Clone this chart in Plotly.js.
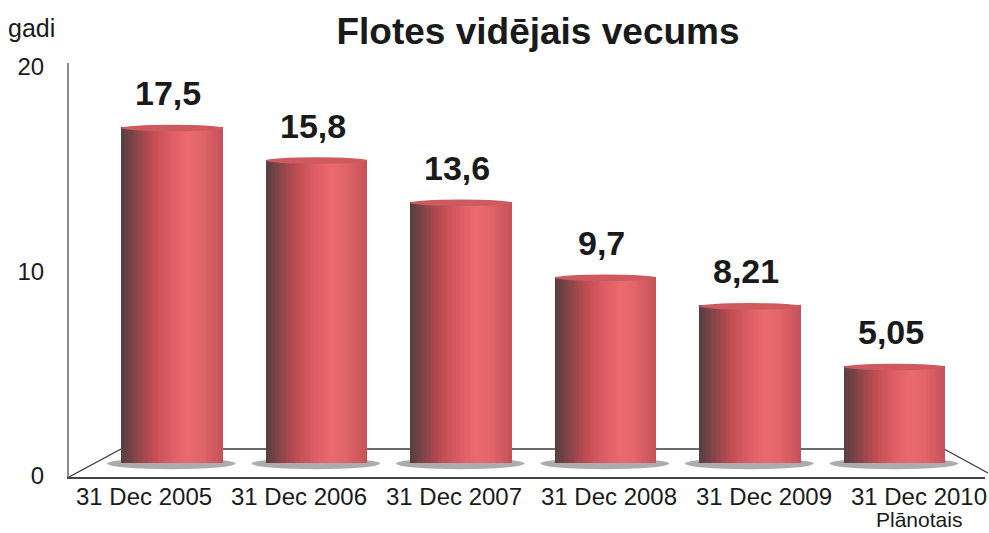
<!DOCTYPE html>
<html>
<head>
<meta charset="utf-8">
<script src="https://cdn.plot.ly/plotly-3.0.1.min.js"></script>
<style>html,body{margin:0;padding:0;background:#fff;}#chart{width:989px;height:533px;}</style>
</head>
<body>
<div id="chart"></div>
<script>
// ---- data ----
var categories = ["31 Dec 2005", "31 Dec 2006", "31 Dec 2007", "31 Dec 2008", "31 Dec 2009", "31 Dec 2010"];
var categoryNote = "Plānotais";
var values = [17.5, 15.8, 13.6, 9.7, 8.21, 5.05];
var valueLabels = ["17,5", "15,8", "13,6", "9,7", "8,21", "5,05"];
var yTickVals = [0, 10, 20];
var chartTitle = "Flotes vidējais vecums";
var yUnit = "gadi";

// ---- styling: cylinder shading stops ----
var shadeStops = [[0, [84,62,64]], [0.12, [128,68,72]], [0.3, [190,76,82]], [0.5, [222,94,100]], [0.65, [234,106,110]], [0.8, [226,100,105]], [1, [196,82,88]]];
function shadeAt(t){
  for (var s = 1; s < shadeStops.length; s++) {
    if (t <= shadeStops[s][0]) {
      var a = shadeStops[s-1], b = shadeStops[s];
      var f = (t - a[0]) / (b[0] - a[0]);
      var c = a[1].map(function(v, j){ return Math.round(v + (b[1][j] - v) * f); });
      return 'rgb(' + c.join(',') + ')';
    }
  }
  return 'rgb(' + shadeStops[shadeStops.length-1][1].join(',') + ')';
}
var W = 0.70;
var N = 40;
var idx = values.map(function(_, i){ return i; });

var traces = [];
for (var k = 0; k < N; k++) {
  traces.push({
    type: 'bar', x: idx, y: values,
    xaxis: 'x', yaxis: 'y2',
    offset: -W/2 + k*W/N, width: (W/N)*(k < N-1 ? 1.6 : 1),
    marker: {color: shadeAt((k + 0.5) / N), line: {width: 0}},
    hoverinfo: 'skip', showlegend: false
  });
}
// invisible helper for label axes
traces.push({type:'scatter', mode:'markers', x: idx, y: values, xaxis:'x2', yaxis:'y',
  marker:{opacity:0}, hoverinfo:'skip', showlegend:false});

var shapes = [];
function px2x(p){ return (p-69)/916; }
function py2y(p){ return (477-p)/414; }
var floorLine = {color:'#3a3a3a', width:1.4};
shapes.push({type:'line', xref:'paper', yref:'paper', x0:px2x(69), y0:py2y(477), x1:px2x(121), y1:py2y(449), line:floorLine, layer:'below'});
shapes.push({type:'line', xref:'paper', yref:'paper', x0:px2x(121), y0:py2y(449), x1:px2x(944), y1:py2y(449), line:floorLine, layer:'below'});
shapes.push({type:'line', xref:'paper', yref:'paper', x0:px2x(944), y0:py2y(449), x1:px2x(988), y1:py2y(473), line:floorLine, layer:'below'});
values.forEach(function(v, i){
  shapes.push({type:'circle', xref:'x', yref:'y2', x0:i-0.45, x1:i+0.44, y0:-0.32, y1:0.26,
    fillcolor:'#acacac', line:{width:0}, layer:'below'});
  shapes.push({type:'circle', xref:'x', yref:'y2', x0:i-W/2, x1:i+W/2, y0:v-0.22, y1:v+0.12,
    fillcolor:'#cd5a5f', line:{width:0}, layer:'above'});
});

var fontFam = 'Liberation Sans, Arial, sans-serif';
var annotations = values.map(function(v, i){
  return {xref:'x', yref:'y2', x:i, y:v, text:valueLabels[i], showarrow:false,
    xanchor:'center', yanchor:'middle', yshift:34, xshift:-4,
    font:{family:fontFam, size:34, color:'#1a1a1a', weight:'bold'}};
});
annotations.push({xref:'paper', yref:'paper', x:px2x(6), y:py2y(28), text:yUnit, showarrow:false,
  xanchor:'left', yanchor:'middle', font:{family:fontFam, size:25, color:'#1a1a1a'}});
annotations.push({xref:'x2', yref:'paper', x:categories.length-1, y:py2y(519), text:categoryNote, showarrow:false,
  xanchor:'center', yanchor:'middle', font:{family:fontFam, size:21, color:'#1a1a1a'}});

var layout = {
  width:989, height:533,
  margin:{l:69, r:4, t:63, b:56},
  paper_bgcolor:'#fff', plot_bgcolor:'rgba(0,0,0,0)',
  barmode:'overlay', bargap:0,
  title:{text:'<b>'+chartTitle+'</b>', xref:'container', yref:'container', x:538/989, y:1-31/533,
    xanchor:'center', yanchor:'middle',
    font:{family:fontFam, size:37, color:'#1a1a1a'}},
  xaxis:{range:[-0.713, 5.626], showticklabels:false, showgrid:false, zeroline:false,
    showline:true, linecolor:'#444', linewidth:2, ticks:''},
  xaxis2:{overlaying:'x', side:'bottom', range:[-0.484, 5.426], tickmode:'array', tickvals:idx, ticktext:categories,
    showgrid:false, zeroline:false, showline:false, ticks:'', ticklabelstandoff:3,
    tickfont:{family:fontFam, size:24, color:'#1a1a1a'}},
  yaxis:{range:[-0.049, 20.196], tickmode:'array', tickvals:yTickVals, showgrid:false, zeroline:false,
    showline:true, linecolor:'#8a8a8a', linewidth:2, ticks:'', ticklabelstandoff:18,
    tickfont:{family:fontFam, size:24, color:'#1a1a1a'}},
  yaxis2:{overlaying:'y', range:[-0.729, 20.833], showticklabels:false, showgrid:false, zeroline:false, showline:false},
  shapes:shapes, annotations:annotations
};

Plotly.newPlot('chart', traces, layout, {displayModeBar:false, staticPlot:true});
</script>
</body>
</html>
